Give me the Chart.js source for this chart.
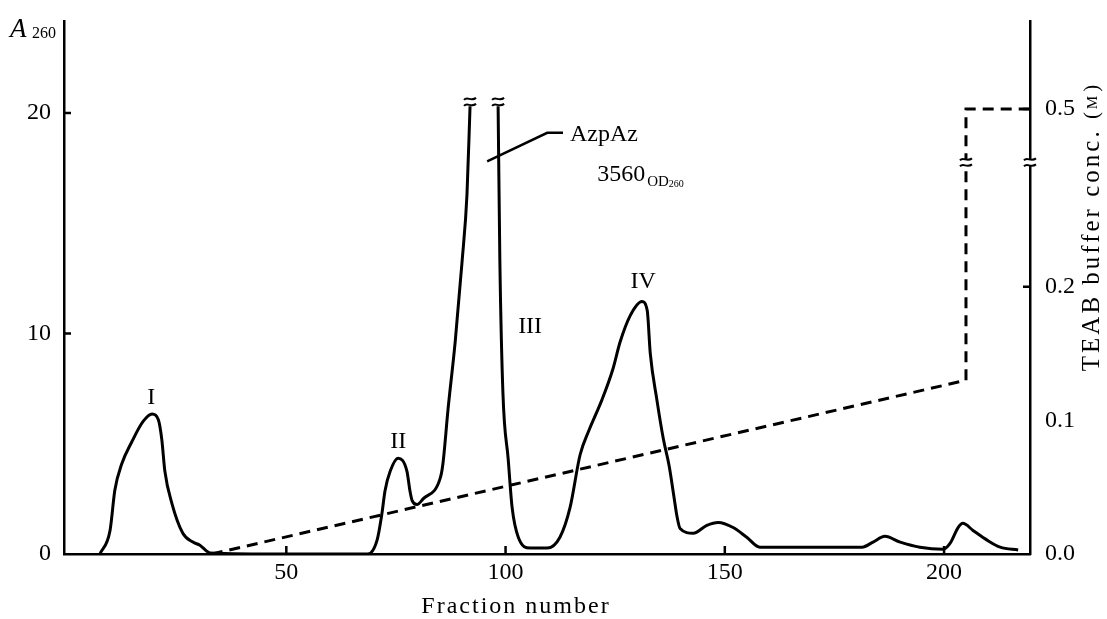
<!DOCTYPE html>
<html>
<head>
<meta charset="utf-8">
<script src="https://cdn.jsdelivr.net/npm/chart.js@4"></script>
<style>
  html, body { margin: 0; padding: 0; background: #fff; }
  #wrap { width: 1107px; height: 619px; }
</style>
</head>
<body>
<div id="wrap"><canvas id="c" width="1107" height="619"></canvas></div>
<script>
// elution profile (A260)
const fraction = [7.5, 9.8, 10.9, 12.5, 14.8, 17.3, 19.4, 20.8, 21.6, 22.3, 23.9, 26.4, 28.7, 30.3, 32.6, 50, 68.6,
  70.7, 71.8, 72.5, 73.7, 75.5, 77.5, 78.2, 78.7, 79.8, 81.2, 85.1, 85.7, 86.9, 88.5, 90.1, 91.2, 91.9, 95,
  98.3, 98.7, 99.4, 100.6, 101.5, 102.9, 105.6, 109.5, 112.4, 114.7, 117, 119, 120.5, 122, 124.5, 126.1, 128.4,
  131.1, 132.3, 133, 134.5, 136, 137.3, 138.4, 139.1, 139.8, 142.8, 145.9, 148.5, 151.9, 155, 158, 181.3, 183.8,
  186.5, 190, 194.5, 199.8, 201.4, 203.2, 204.3, 206.6, 209.8, 212.8, 216.9];
const a260 = [0, 1.07, 2.9, 4.1, 5.1, 6.0, 6.35, 6.1, 5.2, 3.76, 2.3, 0.94, 0.54, 0.4, 0.05, 0, 0,
  0.63, 1.83, 2.86, 3.76, 4.34, 3.76, 2.86, 2.42, 2.24, 2.5, 3.44, 4.07, 6.6, 9.6, 13.3, 16.3, 20.3, null,
  20.3, 13.3, 7.3, 4.3, 2.1, 0.76, 0.27, 0.27, 0.76, 2.1, 4.5, 5.6, 6.3, 7.0, 8.4, 9.6, 10.8,
  11.45, 11.05, 9.1, 7.0, 5.2, 4.0, 2.6, 1.7, 1.16, 0.94, 1.3, 1.43, 1.2, 0.76, 0.31, 0.31, 0.54,
  0.8, 0.54, 0.31, 0.22, 0.49, 1.2, 1.39, 1.07, 0.63, 0.31, 0.18];

// TEAB gradient (M)
const bufferFraction = [33, 205, 205, 219.6];
const bufferConc = [0, 0.13, 0.5, 0.5];

// ticks
const xTicks = [50, 100, 150, 200];
const a260Ticks = [0, 10, 20];
const concTicks = [0, 0.1, 0.2, 0.5];
const concTickLabels = ['0.0', '0.1', '0.2', '0.5'];

// right axis is broken above ~0.29: 0.5 M is drawn at 0.333
const CONC_DRAWN_05 = 0.333;
const CONC_BREAK = 0.293;
function concToAxis(v) { return v <= 0.25 ? v : CONC_DRAWN_05 + (v - 0.5); }

const FONT = '"Liberation Serif", "DejaVu Serif", serif';

// small "≈" cut mark drawn across a vertical line
function cutMark(ctx, px, py) {
  ctx.save();
  ctx.fillStyle = '#fff';
  ctx.fillRect(px - 3, py - 3, 6, 6);
  ctx.strokeStyle = '#000';
  ctx.lineWidth = 2;
  [-3, 3].forEach(dy => {
    ctx.beginPath();
    ctx.moveTo(px - 6, py + dy + 1);
    ctx.bezierCurveTo(px - 3, py + dy - 3, px + 1, py + dy + 3, px + 6, py + dy - 1);
    ctx.stroke();
  });
  ctx.restore();
}

const extras = {
  id: 'extras',
  afterDraw(chart) {
    const { ctx, chartArea: ca, scales } = chart;
    const x = scales.x, y = scales.y, y2 = scales.y2;
    ctx.save();
    ctx.strokeStyle = '#000';
    ctx.fillStyle = '#000';
    ctx.lineWidth = 2.5;
    // inward tick marks
    ctx.beginPath();
    xTicks.forEach(v => { const px = x.getPixelForValue(v); ctx.moveTo(px, ca.bottom); ctx.lineTo(px, ca.bottom - 8); });
    a260Ticks.filter(v => v > 0).forEach(v => { const py = y.getPixelForValue(v); ctx.moveTo(ca.left, py); ctx.lineTo(ca.left + 7, py); });
    concTicks.filter(v => v >= 0.2).forEach(v => { const py = y2.getPixelForValue(concToAxis(v)); ctx.moveTo(ca.right, py); ctx.lineTo(ca.right - 7, py); });
    ctx.stroke();

    // break marks
    cutMark(ctx, x.getPixelForValue(91.9), y.getPixelForValue(20.5));
    cutMark(ctx, x.getPixelForValue(98.3), y.getPixelForValue(20.5));
    cutMark(ctx, x.getPixelForValue(205), y2.getPixelForValue(CONC_BREAK));
    cutMark(ctx, ca.right, y2.getPixelForValue(CONC_BREAK));

    // peak labels
    ctx.font = '24px ' + FONT;
    ctx.textAlign = 'center';
    ctx.textBaseline = 'middle';
    [['I', 19.2, 7.1], ['II', 75.5, 5.1], ['III', 105.6, 10.3], ['IV', 131.4, 12.35]].forEach(([t, vx, vy]) => {
      ctx.fillText(t, x.getPixelForValue(vx), y.getPixelForValue(vy));
    });

    // AzpAz leader + labels
    ctx.lineWidth = 2.5;
    ctx.beginPath();
    ctx.moveTo(x.getPixelForValue(95.8), y.getPixelForValue(17.8));
    ctx.lineTo(x.getPixelForValue(109.5), y.getPixelForValue(19.1));
    ctx.lineTo(x.getPixelForValue(113.1), y.getPixelForValue(19.1));
    ctx.stroke();
    ctx.textAlign = 'left';
    ctx.font = '24px ' + FONT;
    ctx.fillText('AzpAz', x.getPixelForValue(114.7), y.getPixelForValue(19.0));
    const nx = x.getPixelForValue(120.9), ny = y.getPixelForValue(17.2);
    ctx.fillText('3560', nx, ny);
    let w = ctx.measureText('3560').width;
    ctx.font = '15px ' + FONT;
    ctx.fillText('OD', nx + w + 2, ny + 7);
    const w2 = ctx.measureText('OD').width;
    ctx.font = '10px ' + FONT;
    ctx.fillText('260', nx + w + 2 + w2, ny + 10);

    // A260 axis label
    ctx.textBaseline = 'alphabetic';
    ctx.font = 'italic 27px ' + FONT;
    ctx.fillText('A', 10, 37);
    ctx.font = '16px ' + FONT;
    ctx.fillText('260', 32, 38);

    // x title
    ctx.font = '24px ' + FONT;
    ctx.letterSpacing = '2px';
    ctx.textAlign = 'center';
    ctx.fillText('Fraction number', 516, 613);

    // right title, reading bottom to top
    ctx.translate(1092, 226);
    ctx.rotate(-Math.PI / 2);
    ctx.textBaseline = 'middle';
    ctx.textAlign = 'left';
    ctx.letterSpacing = '3px';
    const main = 'TEAB buffer conc. ';
    ctx.font = '25px ' + FONT;
    const mw = ctx.measureText(main).width;
    ctx.font = '21px ' + FONT;
    const pw = ctx.measureText('(').width;
    ctx.font = '15px ' + FONT;
    const mW = ctx.measureText('M').width;
    const total = mw + pw * 2 + mW + 2;
    let cx = -total / 2;
    ctx.font = '25px ' + FONT;
    ctx.fillText(main, cx, 0);
    cx += mw;
    ctx.font = '21px ' + FONT;
    ctx.fillText('(', cx, 0);
    ctx.font = '15px ' + FONT;
    ctx.fillText('M', cx + pw, 1);
    ctx.font = '21px ' + FONT;
    ctx.fillText(')', cx + pw + mW + 1, 0);
    ctx.restore();
  }
};

new Chart(document.getElementById('c'), {
  type: 'line',
  data: {
    datasets: [
      {
        label: 'A260',
        data: fraction.map((f, i) => ({ x: f, y: a260[i] })),
        yAxisID: 'y',
        borderColor: '#000',
        borderWidth: 3,
        pointRadius: 0,
        cubicInterpolationMode: 'monotone',
        spanGaps: false,
        fill: false
      },
      {
        label: 'TEAB',
        data: bufferFraction.map((f, i) => ({ x: f, y: concToAxis(bufferConc[i]) })),
        yAxisID: 'y2',
        borderColor: '#000',
        borderWidth: 3,
        borderDash: [11, 7],
        pointRadius: 0,
        tension: 0,
        fill: false
      }
    ]
  },
  options: {
    responsive: false,
    animation: false,
    layout: { padding: { top: 14, left: 0, right: 0, bottom: 0 } },
    plugins: { legend: { display: false }, tooltip: { enabled: false } },
    scales: {
      x: {
        type: 'linear', min: -0.7, max: 219.6,
        grid: { display: false },
        border: { display: true, color: '#000', width: 2.5 },
        afterBuildTicks: s => { s.ticks = xTicks.map(v => ({ value: v })); },
        afterFit: s => { s.height = 65; },
        ticks: { color: '#000', padding: -4, maxRotation: 0, font: { family: FONT, size: 24 } }
      },
      y: {
        position: 'left', min: 0, max: 24.15,
        grid: { display: false },
        border: { display: true, color: '#000', width: 2.5 },
        afterBuildTicks: s => { s.ticks = a260Ticks.map(v => ({ value: v })); },
        afterFit: s => { s.width = 64; },
        ticks: { color: '#000', padding: 5, font: { family: FONT, size: 24 } }
      },
      y2: {
        position: 'right', min: 0, max: 0.3985,
        grid: { display: false },
        border: { display: true, color: '#000', width: 2.5 },
        afterBuildTicks: s => { s.ticks = concTicks.map(v => ({ value: concToAxis(v) })); },
        afterFit: s => { s.width = 77; },
        ticks: {
          color: '#000', padding: 7, font: { family: FONT, size: 24 },
          callback: (val, i) => concTickLabels[i]
        }
      }
    }
  },
  plugins: [extras]
});
</script>
</body>
</html>
